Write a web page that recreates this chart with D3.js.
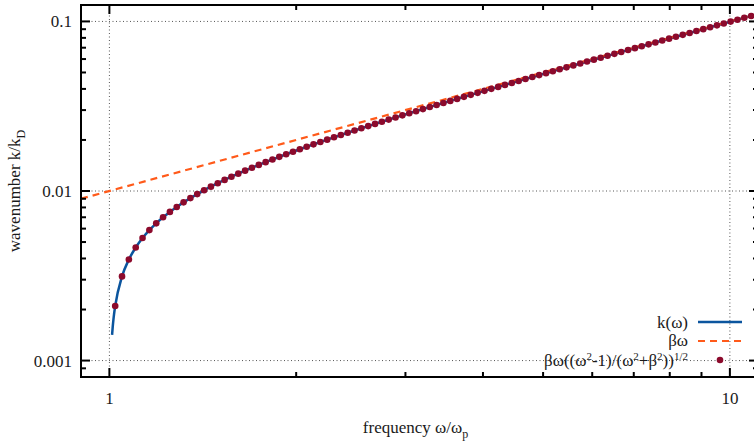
<!DOCTYPE html>
<html>
<head>
<meta charset="utf-8">
<script src="https://cdn.jsdelivr.net/npm/d3@7"></script>
<style>
body { margin: 0; background: #fff; }
svg text { font-family: "Liberation Serif", serif; font-size: 17px; fill: #1a1a1a; }
</style>
</head>
<body>
<div id="main"></div>
<script>
// sampled points of k(w) = beta*w*((w^2-1)/(w^2+beta^2))^(1/2), beta = 0.01
const omega = [1.02176, 1.04802, 1.07496, 1.10258, 1.13092, 1.15999, 1.18980, 1.22038, 1.25175, 1.28392,
    1.31692, 1.35077, 1.38548, 1.42109, 1.45761, 1.49507, 1.53350, 1.57291, 1.61333, 1.65480,
    1.69733, 1.74096, 1.78570, 1.83159, 1.87867, 1.92696, 1.97648, 2.02728, 2.07938, 2.13282,
    2.18763, 2.24386, 2.30153, 2.36068, 2.42135, 2.48358, 2.54741, 2.61288, 2.68003, 2.74891,
    2.81956, 2.89203, 2.96636, 3.04260, 3.12079, 3.20100, 3.28327, 3.36765, 3.45420, 3.54298,
    3.63403, 3.72743, 3.82323, 3.92149, 4.02228, 4.12565, 4.23168, 4.34044, 4.45199, 4.56641,
    4.68377, 4.80415, 4.92762, 5.05426, 5.18416, 5.31740, 5.45405, 5.59423, 5.73800, 5.88547,
    6.03674, 6.19188, 6.35101, 6.51424, 6.68166, 6.85338, 7.02952, 7.21019, 7.39548, 7.58555,
    7.78051, 7.98047, 8.18558, 8.39593, 8.61172, 8.83305, 9.06006, 9.29291, 9.53173, 9.77670,
    10.02797, 10.28570, 10.55004, 10.82116, 11.09927];
const kDots = [0.002097, 0.003136, 0.003944, 0.004644, 0.005282, 0.005879, 0.006447, 0.006995, 0.007529, 0.008053,
    0.008569, 0.009081, 0.009589, 0.010097, 0.010605, 0.011114, 0.011626, 0.012141, 0.012660, 0.013185,
    0.013715, 0.014251, 0.014794, 0.015345, 0.015904, 0.016472, 0.017048, 0.017635, 0.018231, 0.018839,
    0.019457, 0.020087, 0.020729, 0.021384, 0.022052, 0.022734, 0.023429, 0.024140, 0.024865, 0.025606,
    0.026363, 0.027136, 0.027927, 0.028736, 0.029562, 0.030408, 0.031273, 0.032158, 0.033063, 0.033989,
    0.034937, 0.035908, 0.036901, 0.037918, 0.038960, 0.040026, 0.041118, 0.042237, 0.043382, 0.044556,
    0.045758, 0.046989, 0.048251, 0.049544, 0.050868, 0.052225, 0.053616, 0.055041, 0.056502, 0.057999,
    0.059533, 0.061106, 0.062718, 0.064370, 0.066064, 0.067800, 0.069580, 0.071405, 0.073276, 0.075194,
    0.077160, 0.079176, 0.081243, 0.083362, 0.085535, 0.087763, 0.090047, 0.092390, 0.094791, 0.097254,
    0.099780, 0.102370, 0.105025, 0.107749, 0.110541];
// extra points of the solid curve close to the cutoff w = 1
const omegaStart = [1.0100, 1.0125, 1.0150, 1.0175];
const kStart = [0.001418, 0.001586, 0.001739, 0.001879];
// beta*w asymptote end points
const omegaAsym = [0.9, 11.1];
const kAsym = [0.009, 0.111];

const xTickLabels = ["1", "10"];
const yTickLabels = ["0.001", "0.01", "0.1"];
const legendNames = ["k(ω)", "βω", "dots"];

const ctx = {
    w: 754, h: 442,
    left: 81, right: 758, top: 5, bottom: 377,
    blue: "#0b559e",
    orange: "#ff5a1a",
    darkred: "#8c0a2c",
};

const x = d3.scaleLog().domain([0.9, 11.1]).range([ctx.left, ctx.right]);
const y = d3.scaleLog().domain([0.0008, 0.125]).range([ctx.bottom, ctx.top]);

const svg = d3.select("#main").append("svg")
    .attr("width", ctx.w).attr("height", ctx.h);

svg.append("defs").append("clipPath").attr("id", "plotclip")
  .append("rect")
    .attr("x", ctx.left).attr("y", ctx.top)
    .attr("width", ctx.right - ctx.left).attr("height", ctx.bottom - ctx.top);

// grid at major ticks
const xMajor = xTickLabels.map(Number);
const yMajor = yTickLabels.map(Number);
const grid = svg.append("g").attr("stroke", "#555").attr("stroke-width", 1)
    .attr("stroke-dasharray", "1,2.5");
grid.selectAll("line.gx").data(xMajor).enter().append("line")
    .attr("x1", d => x(d)).attr("x2", d => x(d))
    .attr("y1", ctx.top).attr("y2", ctx.bottom);
grid.selectAll("line.gy").data(yMajor).enter().append("line")
    .attr("y1", d => y(d)).attr("y2", d => y(d))
    .attr("x1", ctx.left).attr("x2", ctx.right);

// curves
const plot = svg.append("g").attr("clip-path", "url(#plotclip)");

const lineData = omegaStart.map((w, i) => [w, kStart[i]])
    .concat(omega.map((w, i) => [w, kDots[i]]));
const lineGen = d3.line().x(d => x(d[0])).y(d => y(d[1])).curve(d3.curveMonotoneX);

plot.append("path")
    .attr("d", lineGen(lineData))
    .attr("fill", "none").attr("stroke", ctx.blue).attr("stroke-width", 2.5);

plot.append("path")
    .attr("d", d3.line().x(d => x(d[0])).y(d => y(d[1]))(omegaAsym.map((w, i) => [w, kAsym[i]])))
    .attr("fill", "none").attr("stroke", ctx.orange).attr("stroke-width", 2.2)
    .attr("stroke-dasharray", "7,5");

plot.selectAll("circle").data(omega.map((w, i) => [w, kDots[i]])).enter()
  .append("circle")
    .attr("cx", d => x(d[0])).attr("cy", d => y(d[1]))
    .attr("r", 3.3).attr("fill", ctx.darkred);

// ticks on all four sides, pointing inward
const xAll = x.ticks().filter(d => d > 0.9 && d < 11.1);
const yAll = y.ticks().filter(d => d > 0.0008 && d < 0.125);
const isMajor = d => Math.abs(Math.log10(d) - Math.round(Math.log10(d))) < 1e-6;
const ticks = svg.append("g").attr("stroke", "#000").attr("stroke-width", 2);
xAll.forEach(function(d){
    let len = isMajor(d) ? 9 : 5;
    ticks.append("line").attr("x1", x(d)).attr("x2", x(d))
        .attr("y1", ctx.bottom).attr("y2", ctx.bottom - len);
    ticks.append("line").attr("x1", x(d)).attr("x2", x(d))
        .attr("y1", ctx.top).attr("y2", ctx.top + len);
});
yAll.forEach(function(d){
    let len = isMajor(d) ? 9 : 5;
    ticks.append("line").attr("y1", y(d)).attr("y2", y(d))
        .attr("x1", ctx.left).attr("x2", ctx.left + len);
    ticks.append("line").attr("y1", y(d)).attr("y2", y(d))
        .attr("x1", ctx.right).attr("x2", ctx.right - len);
});

// border
svg.append("rect")
    .attr("x", ctx.left).attr("y", ctx.top)
    .attr("width", ctx.right - ctx.left).attr("height", ctx.bottom - ctx.top)
    .attr("fill", "none").attr("stroke", "#000").attr("stroke-width", 2);

// tick labels
svg.selectAll("text.xt").data(xTickLabels).enter().append("text")
    .attr("x", d => x(+d)).attr("y", 404)
    .attr("text-anchor", "middle").text(d => d);
svg.selectAll("text.yt").data(yTickLabels).enter().append("text")
    .attr("x", 72).attr("y", d => y(+d) + 6)
    .attr("text-anchor", "end").text(d => d);

// axis titles
const xl = svg.append("text").attr("x", (ctx.left + ctx.right) / 2 - 4).attr("y", 433)
    .attr("text-anchor", "middle");
xl.append("tspan").text("frequency ω/ω");
xl.append("tspan").attr("dy", 5).attr("font-size", "12px").text("p");

const yl = svg.append("text")
    .attr("transform", "translate(20," + ((ctx.top + ctx.bottom) / 2) + ") rotate(-90)")
    .attr("text-anchor", "middle");
yl.append("tspan").text("wavenumber k/k");
yl.append("tspan").attr("dy", 5).attr("font-size", "12px").text("D");

// legend
const legend = svg.append("g");
const rows = [322, 341, 360];
legend.append("text").attr("x", 688).attr("y", rows[0] + 6)
    .attr("text-anchor", "end").text(legendNames[0]);
legend.append("text").attr("x", 688).attr("y", rows[1] + 5)
    .attr("text-anchor", "end").text(legendNames[1]);
const t3 = legend.append("text").attr("x", 688).attr("y", rows[2] + 6)
    .attr("text-anchor", "end");
const parts = [["βω((ω", 0], ["2", 1], ["-1)/(ω", 0], ["2", 1], ["+β", 0], ["2", 1], ["))", 0], ["1/2", 1]];
let sup = 0;
parts.forEach(function(p){
    let dy = 0;
    if (p[1] && !sup) dy = -6;
    if (!p[1] && sup) dy = 6;
    sup = p[1];
    let ts = t3.append("tspan").text(p[0]);
    if (dy) ts.attr("dy", dy);
    if (p[1]) ts.attr("font-size", "11px");
});

legend.append("line").attr("x1", 698).attr("x2", 742)
    .attr("y1", rows[0]).attr("y2", rows[0])
    .attr("stroke", ctx.blue).attr("stroke-width", 2.5);
legend.append("line").attr("x1", 698).attr("x2", 742)
    .attr("y1", rows[1]).attr("y2", rows[1])
    .attr("stroke", ctx.orange).attr("stroke-width", 2.2).attr("stroke-dasharray", "7,5");
legend.append("circle").attr("cx", 720).attr("cy", rows[2]).attr("r", 3.3)
    .attr("fill", ctx.darkred);
</script>
</body>
</html>
